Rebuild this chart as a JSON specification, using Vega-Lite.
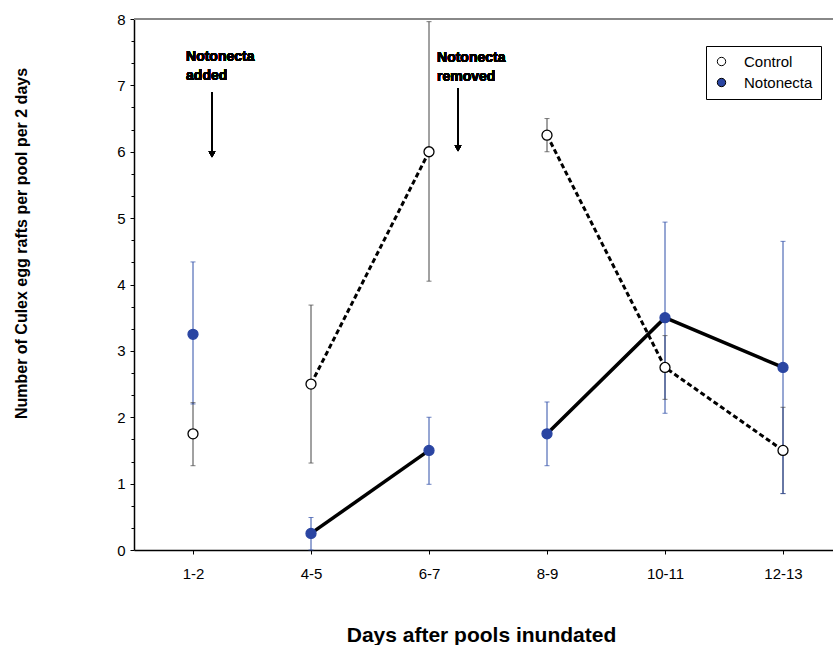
{
  "$schema": "https://vega.github.io/schema/vega-lite/v6.json",
  "autosize": {"type": "none"},
  "width": 699,
  "height": 531,
  "padding": {"left": 134, "top": 19, "right": 0, "bottom": 95},
  "background": "white",
  "config": {
    "view": {"stroke": null},
    "font": "Liberation Sans"
  },
  "resolve": {"axis": {"y": "independent"}},
  "data": {
    "values": [
      {"day": 1, "label": "1-2", "group": "Control", "seg": "c0", "mean": 1.75, "lo": 1.27, "hi": 2.22},
      {"day": 2, "label": "4-5", "group": "Control", "seg": "c1", "mean": 2.5, "lo": 1.31, "hi": 3.69},
      {"day": 3, "label": "6-7", "group": "Control", "seg": "c1", "mean": 6.0, "lo": 4.05, "hi": 7.96},
      {"day": 4, "label": "8-9", "group": "Control", "seg": "c2", "mean": 6.25, "lo": 6.0, "hi": 6.5},
      {"day": 5, "label": "10-11", "group": "Control", "seg": "c2", "mean": 2.75, "lo": 2.27, "hi": 3.23},
      {"day": 6, "label": "12-13", "group": "Control", "seg": "c2", "mean": 1.5, "lo": 0.85, "hi": 2.15},
      {"day": 1, "label": "1-2", "group": "Notonecta", "seg": "n0", "mean": 3.25, "lo": 2.2, "hi": 4.34},
      {"day": 2, "label": "4-5", "group": "Notonecta", "seg": "n1", "mean": 0.25, "lo": 0.0, "hi": 0.49},
      {"day": 3, "label": "6-7", "group": "Notonecta", "seg": "n1", "mean": 1.5, "lo": 0.99, "hi": 2.0},
      {"day": 4, "label": "8-9", "group": "Notonecta", "seg": "n2", "mean": 1.75, "lo": 1.27, "hi": 2.23},
      {"day": 5, "label": "10-11", "group": "Notonecta", "seg": "n2", "mean": 3.5, "lo": 2.06, "hi": 4.94},
      {"day": 6, "label": "12-13", "group": "Notonecta", "seg": "n2", "mean": 2.75, "lo": 0.85, "hi": 4.65}
    ]
  },
  "layer": [
    {
      "mark": {"type": "rule", "color": "#888888", "strokeWidth": 1.5},
      "encoding": {
        "y": {"datum": 8, "type": "quantitative",
          "scale": {"domain": [0, 8], "nice": false},
          "axis": {
            "orient": "left",
            "values": [0.3333, 0.6667, 1.3333, 1.6667, 2.3333, 2.6667, 3.3333, 3.6667, 4.3333, 4.6667, 5.3333, 5.6667, 6.3333, 6.6667, 7.3333, 7.6667],
            "labels": false, "domain": false, "grid": false, "title": null,
            "ticks": true, "tickSize": 3, "tickColor": "black", "tickWidth": 1
          }
        }
      }
    },
    {
      "mark": {"type": "rule", "strokeWidth": 1},
      "encoding": {
        "x": {
          "field": "day", "type": "quantitative",
          "scale": {"domain": [0.5, 6.4237], "nice": false, "zero": false},
          "axis": {
            "values": [1, 2, 3, 4, 5, 6],
            "labelExpr": "['1-2','4-5','6-7','8-9','10-11','12-13'][datum.value - 1]",
            "labelOverlap": false,
            "grid": false,
            "domainColor": "black", "domainWidth": 1.5,
            "tickColor": "black", "tickSize": 4,
            "labelFontSize": 15, "labelColor": "black", "labelFont": "Liberation Sans",
            "labelPadding": 12,
            "title": "Days after pools inundated",
            "titleFont": "Liberation Sans", "titleFontSize": 21, "titleFontWeight": "bold", "titleColor": "black",
            "titleX": 347, "titleY": 91, "titleBaseline": "alphabetic", "titleAlign": "center"
          }
        },
        "y": {"field": "lo", "type": "quantitative",
          "axis": {
            "orient": "left",
            "values": [0, 1, 2, 3, 4, 5, 6, 7, 8],
            "format": "d",
            "labelOverlap": false,
            "tickSize": 4,
            "grid": false,
            "domainColor": "black", "domainWidth": 1.5,
            "tickColor": "black", "tickWidth": 1,
            "labelFontSize": 15, "labelColor": "black", "labelFont": "Liberation Sans",
            "labelPadding": 5,
            "title": "Number of Culex egg rafts per pool per 2 days",
            "titleFont": "Liberation Sans", "titleFontSize": 16, "titleFontWeight": "bold", "titleColor": "black",
            "titleX": -108, "titleY": 224, "titleBaseline": "alphabetic", "titleAlign": "center", "titleAngle": -90
          }
        },
        "y2": {"field": "hi"},
        "color": {"field": "group", "type": "nominal", "scale": {"range": ["#444444", "#2f4ea8"]}, "legend": null}
      }
    },
    {
      "mark": {"type": "tick", "orient": "horizontal", "size": 5, "thickness": 1},
      "encoding": {
        "x": {"field": "day", "type": "quantitative"},
        "y": {"field": "lo", "type": "quantitative", "axis": null},
        "color": {"field": "group", "type": "nominal", "legend": null}
      }
    },
    {
      "mark": {"type": "tick", "orient": "horizontal", "size": 5, "thickness": 1},
      "encoding": {
        "x": {"field": "day", "type": "quantitative"},
        "y": {"field": "hi", "type": "quantitative", "axis": null},
        "color": {"field": "group", "type": "nominal", "legend": null}
      }
    },
    {
      "transform": [{"filter": "datum.group == 'Control'"}],
      "mark": {"type": "line", "color": "black", "strokeWidth": 3, "strokeDash": [5, 3]},
      "encoding": {
        "x": {"field": "day", "type": "quantitative"},
        "y": {"field": "mean", "type": "quantitative", "axis": null},
        "detail": {"field": "seg"}
      }
    },
    {
      "transform": [{"filter": "datum.group == 'Notonecta'"}],
      "mark": {"type": "line", "color": "black", "strokeWidth": 3.5},
      "encoding": {
        "x": {"field": "day", "type": "quantitative"},
        "y": {"field": "mean", "type": "quantitative", "axis": null},
        "detail": {"field": "seg"}
      }
    },
    {
      "mark": {"type": "point", "shape": "circle", "size": 100, "strokeWidth": 1.3, "opacity": 1, "filled": false},
      "encoding": {
        "x": {"field": "day", "type": "quantitative"},
        "y": {"field": "mean", "type": "quantitative", "axis": null},
        "fill": {"field": "group", "type": "nominal", "scale": {"domain": ["Control", "Notonecta"], "range": ["white", "#2a45a2"]},
          "legend": {"title": null, "orient": "none", "legendX": 572, "legendY": 27, "strokeColor": "black", "fillColor": "white", "padding": 8, "symbolSize": 70, "symbolStrokeWidth": 1, "symbolStrokeColor": "black", "labelFontSize": 15, "labelFont": "Liberation Sans", "labelColor": "black", "labelOffset": 15, "rowPadding": 5}},
        "stroke": {"field": "group", "type": "nominal", "scale": {"range": ["black", "#2a45a2"]}, "legend": null}
      }
    },
    {
      "mark": {"type": "text", "text": ["Notonecta", "added"], "align": "left", "baseline": "alphabetic", "fontSize": 14, "fontWeight": "bold", "lineHeight": 19, "font": "Liberation Sans", "color": "black"},
      "encoding": {"x": {"datum": 0.941}, "y": {"datum": 7.367, "axis": null}}
    },
    {
      "mark": {"type": "text", "text": ["Notonecta", "removed"], "align": "left", "baseline": "alphabetic", "fontSize": 14, "fontWeight": "bold", "lineHeight": 19, "font": "Liberation Sans", "color": "black"},
      "encoding": {"x": {"datum": 3.068}, "y": {"datum": 7.347, "axis": null}}
    },
    {
      "mark": {"type": "rule", "color": "black", "strokeWidth": 1},
      "encoding": {"x": {"datum": 1.161}, "y": {"datum": 6.9, "axis": null}, "y2": {"datum": 5.97}}
    },
    {
      "mark": {"type": "rule", "color": "black", "strokeWidth": 1},
      "encoding": {"x": {"datum": 3.246}, "y": {"datum": 6.96, "axis": null}, "y2": {"datum": 6.06}}
    },
    {
      "mark": {"type": "point", "shape": "triangle-down", "size": 45, "filled": true, "color": "black", "opacity": 1},
      "encoding": {"x": {"datum": 1.161}, "y": {"datum": 5.96, "axis": null}}
    },
    {
      "mark": {"type": "point", "shape": "triangle-down", "size": 45, "filled": true, "color": "black", "opacity": 1},
      "encoding": {"x": {"datum": 3.246}, "y": {"datum": 6.05, "axis": null}}
    }
  ]
}
